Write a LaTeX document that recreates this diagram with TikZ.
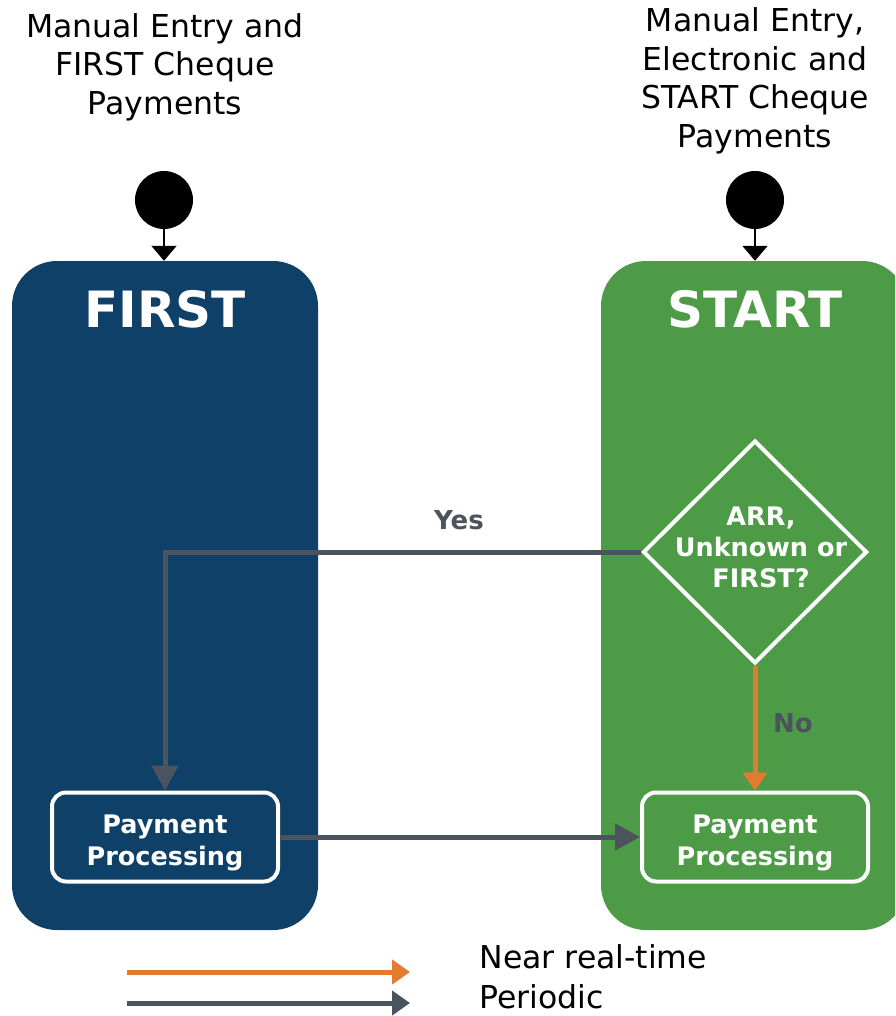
\documentclass[tikz,border=0pt]{standalone}
\usepackage{fontspec}
\setmainfont{DejaVu Sans}
\usetikzlibrary{arrows.meta,shapes.geometric}
\definecolor{firstblue}{HTML}{0F4168}
\definecolor{startgreen}{HTML}{4E9B47}
\definecolor{flowgray}{HTML}{4B545E}
\definecolor{floworange}{HTML}{E27B2F}
\begin{document}
\begin{tikzpicture}[x=1pt,y=-1pt,
  sysbox/.style={rounded corners=45pt, minimum width=306pt, minimum height=669pt, inner sep=0pt},
  title/.style={text=white, font=\fontsize{50}{60}\selectfont\bfseries},
  toptext/.style={align=center, font=\fontsize{31.5}{38.5}\selectfont},
  ppbox/.style={draw=white, line width=4pt, rounded corners=14pt, minimum width=226pt, minimum height=89pt},
  pptext/.style={align=center, text=white, font=\fontsize{25.5}{32}\selectfont\bfseries},
  startdot/.style={circle, fill=black, minimum size=58pt, inner sep=0pt},
  startarrow/.style={draw=black, line width=2pt, -{Triangle[length=15pt,width=25pt]}},
  grayarrow/.style={draw=flowgray, line width=5pt, -{Triangle[length=25pt,width=26pt]}},
  orangearrow/.style={draw=floworange, line width=5pt, -{Triangle[length=18pt,width=24pt]}},
  lbl/.style={text=flowgray, font=\fontsize{26}{30}\selectfont\bfseries},
  legtext/.style={anchor=west, font=\fontsize{31.5}{36}\selectfont}
]
\useasboundingbox (0,0) rectangle (895,1016);
\clip (0,0) rectangle (895,1016);
% system boxes
\node[sysbox, fill=firstblue] (fbox) at (165,595.5) {};
\node[sysbox, fill=startgreen] (sbox) at (754,595.5) {};
\node[title] (ftitle) at (165,309) {FIRST};
\node[title] (stitle) at (755,309) {START};
% top texts
\node[toptext] (ftop) at (165,67) {Manual Entry and\\FIRST Cheque\\Payments};
\node[toptext] (stop) at (755,81) {Manual Entry,\\Electronic and\\START Cheque\\Payments};
% start dots
\node[startdot] (fdot) at (164,200) {};
\node[startdot] (sdot) at (755,200) {};
\draw[startarrow] (fdot.south) -- (fdot.south |- fbox.north);
\draw[startarrow] (sdot.south) -- (sdot.south |- sbox.north);
% decision
\node[diamond, draw=white, line width=4pt, minimum width=224pt, minimum height=223pt, inner sep=0pt, aspect=1] (dia) at (755,552) {};
\node[align=center, text=white, font=\fontsize{25.5}{31}\selectfont\bfseries] (diatext) at (761,547) {ARR,\\Unknown or\\FIRST?};
% payment processing
\node[ppbox] (fpp) at (165,837) {};
\node[ppbox] (spp) at (755,837) {};
\node[pptext] (fpptext) at (165,843) {Payment\\Processing};
\node[pptext] (spptext) at (755,843) {Payment\\Processing};
% connectors
\draw[grayarrow] (dia.west) -- (fpp.north |- dia.west) -- (fpp.north);
\node[lbl] (yes) at (459,520) {Yes};
\draw[orangearrow] (dia.south) -- (spp.north);
\node[lbl] (no) at (793,723) {No};
\draw[grayarrow] (fpp.east) -- (spp.west);
% legend
\coordinate (l1a) at (127,972);
\coordinate (l1b) at (410,972);
\coordinate (l2a) at (127,1003);
\coordinate (l2b) at (410,1003);
\draw[draw=floworange, line width=5pt, -{Triangle[length=18pt,width=24pt]}] (l1a) -- (l1b);
\draw[draw=flowgray, line width=5pt, -{Triangle[length=18pt,width=24pt]}] (l2a) -- (l2b);
\node[legtext] (leg1) at (476,957) {Near real-time};
\node[legtext] (leg2) at (476,997) {Periodic};
\end{tikzpicture}
\end{document}
